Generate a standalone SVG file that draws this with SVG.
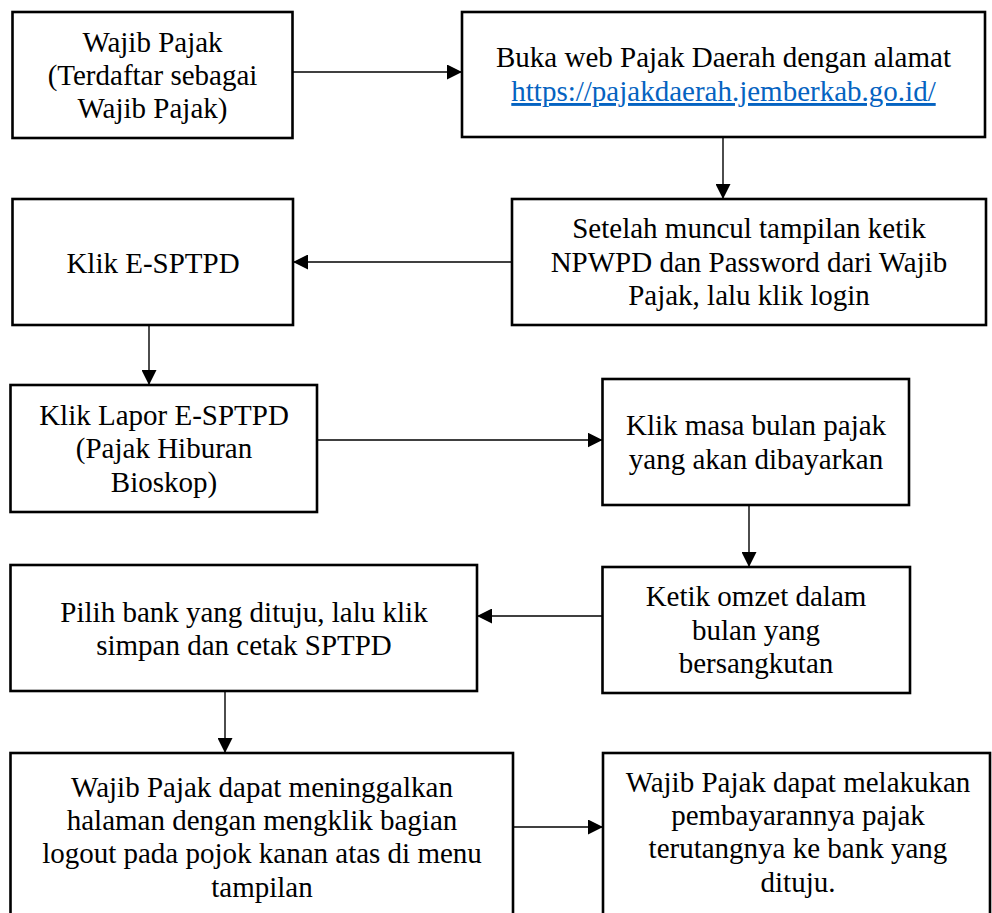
<svg xmlns="http://www.w3.org/2000/svg" width="992" height="913" viewBox="0 0 992 913">
<style>
.box{fill:#fff;stroke:#000;stroke-width:2.6}
.t{font-family:"Liberation Serif","Times New Roman",serif;font-size:29px;fill:#000;text-anchor:middle}
.link{fill:#0563C1;text-decoration:underline}
.c{stroke:#000;stroke-width:1.4;fill:none;marker-end:url(#ah)}
</style>
<defs>
<marker id="ah" markerUnits="userSpaceOnUse" markerWidth="15" markerHeight="15" refX="15" refY="7.5" orient="auto">
<path d="M0,0 L15,7.5 L0,15 z" fill="#000"/>
</marker>
</defs>
<rect width="992" height="913" fill="#fff"/>
<g id="n1">
<rect class="box" x="12.5" y="12" width="280" height="126"/>
<text class="t" x="152.5" y="52">Wajib Pajak</text>
<text class="t" x="152.5" y="85">(Terdaftar sebagai</text>
<text class="t" x="152.5" y="118">Wajib Pajak)</text>
</g>
<g id="n2">
<rect class="box" x="462" y="12" width="523" height="125"/>
<text class="t" x="723.5" y="67">Buka web Pajak Daerah dengan alamat</text>
<text class="t link" x="723.5" y="101">https://pajakdaerah.jemberkab.go.id/</text>
</g>
<g id="n3">
<rect class="box" x="512" y="199" width="474" height="126"/>
<text class="t" x="749" y="238">Setelah muncul tampilan ketik</text>
<text class="t" x="749" y="272">NPWPD dan Password dari Wajib</text>
<text class="t" x="749" y="305">Pajak, lalu klik login</text>
</g>
<g id="n4">
<rect class="box" x="12.5" y="199" width="280.5" height="126"/>
<text class="t" x="153" y="273">Klik E-SPTPD</text>
</g>
<g id="n5">
<rect class="box" x="10.5" y="385" width="306.5" height="127"/>
<text class="t" x="164" y="425">Klik Lapor E-SPTPD</text>
<text class="t" x="164" y="458">(Pajak Hiburan</text>
<text class="t" x="164" y="492">Bioskop)</text>
</g>
<g id="n6">
<rect class="box" x="602.5" y="379" width="306.5" height="126"/>
<text class="t" x="756" y="435">Klik masa bulan pajak</text>
<text class="t" x="756" y="469">yang akan dibayarkan</text>
</g>
<g id="n7">
<rect class="box" x="602.5" y="567" width="307.5" height="126"/>
<text class="t" x="756" y="606">Ketik omzet dalam</text>
<text class="t" x="756" y="640">bulan yang</text>
<text class="t" x="756" y="673">bersangkutan</text>
</g>
<g id="n8">
<rect class="box" x="10.5" y="565" width="466.5" height="126"/>
<text class="t" x="244" y="622">Pilih bank yang dituju, lalu klik</text>
<text class="t" x="244" y="655">simpan dan cetak SPTPD</text>
</g>
<g id="n9">
<rect class="box" x="10.5" y="753" width="502.5" height="175"/>
<text class="t" x="262" y="797">Wajib Pajak dapat meninggalkan</text>
<text class="t" x="262" y="830">halaman dengan mengklik bagian</text>
<text class="t" x="262" y="863">logout pada pojok kanan atas di menu</text>
<text class="t" x="262" y="897">tampilan</text>
</g>
<g id="n10">
<rect class="box" x="603" y="753" width="387" height="175"/>
<text class="t" x="798" y="792">Wajib Pajak dapat melakukan</text>
<text class="t" x="798" y="825">pembayarannya pajak</text>
<text class="t" x="798" y="858">terutangnya ke bank yang</text>
<text class="t" x="798" y="892">dituju.</text>
</g>
<g id="connectors">
<line class="c" x1="292.5" y1="72" x2="462" y2="72"/>
<line class="c" x1="723" y1="137" x2="723" y2="199"/>
<line class="c" x1="512" y1="262" x2="293" y2="262"/>
<line class="c" x1="149" y1="325" x2="149" y2="385"/>
<line class="c" x1="317" y1="440" x2="602.5" y2="440"/>
<line class="c" x1="749" y1="505" x2="749" y2="567"/>
<line class="c" x1="602.5" y1="616" x2="477" y2="616"/>
<line class="c" x1="225" y1="691" x2="225" y2="753"/>
<line class="c" x1="513" y1="827" x2="603" y2="827"/>
</g>
</svg>
